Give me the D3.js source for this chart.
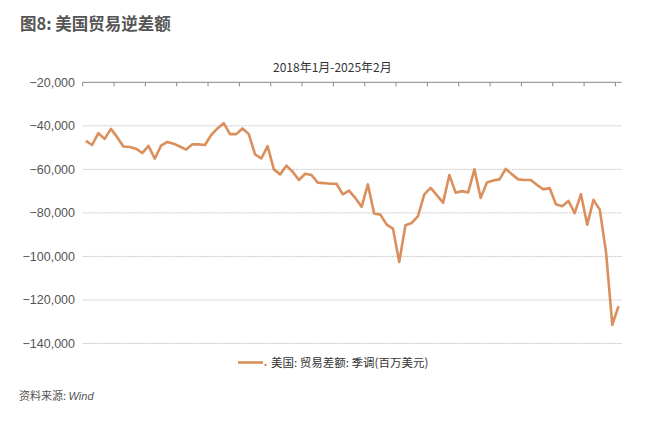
<!DOCTYPE html>
<html><head><meta charset="utf-8">
<script src="https://cdn.jsdelivr.net/npm/d3@7"></script>
<style>
body{margin:0;background:#fff;}
svg{display:block;font-family:"Liberation Sans","Noto Sans CJK SC",sans-serif;}
</style></head>
<body><svg id="c" width="650" height="426"></svg>
<script>
const startYear = 2018, startMonth = 1;
const values = [
 -46900,-48800,-43400,-46000,-41400,-45200,-49500,-49700,-50500,-52500,-49200,-55100,
 -49100,-47400,-48200,-49500,-50900,-48500,-48500,-48800,-44200,-41200,-38800,-43800,
 -43800,-41200,-43800,-53100,-55000,-49300,-60000,-62300,-58300,-61100,-64900,-62000,
 -62600,-66100,-66300,-66600,-66600,-71500,-69800,-73200,-77200,-66900,-80300,-80800,
 -85400,-87200,-102600,-85700,-84600,-81500,-71500,-68500,-71800,-75300,-62600,-70700,
 -70000,-70600,-60000,-73100,-66000,-65100,-64600,-59800,-62300,-64600,-64900,-64900,
 -67200,-69200,-68600,-76000,-76900,-74500,-80100,-71400,-85400,-74000,-78500,-98000,
 -131400,-122800
];
const months = values.map((v,i)=>{const m=startMonth-1+i;return `${startYear+Math.floor(m/12)}-${String(m%12+1).padStart(2,'0')}`;});
const yTicks = [-20000,-40000,-60000,-80000,-100000,-120000,-140000];
const titleText = "图8: 美国贸易逆差额";
const subtitleText = "2018年1月-2025年2月";
const legendText = "美国: 贸易差额: 季调(百万美元)";

const svg = d3.select("#c");
const L = 82.7, R = 621.7, T = 82.3, B = 343.5;
const x = d3.scaleBand().domain(months).range([L, R]).padding(0);
const y = d3.scaleLinear().domain([-20000,-140000]).range([T, B]);

// title
svg.append("text").attr("x",20).attr("y",30).attr("font-size",16.5).attr("font-weight","bold")
  .attr("fill","#555").attr("font-family","'Noto Sans CJK SC',sans-serif").text(titleText);
svg.append("text").attr("x",273).attr("y",72).attr("font-size",12).attr("fill","#333")
  .attr("font-family","'Noto Sans CJK SC',sans-serif").text(subtitleText);

// grid lines
svg.append("g").selectAll("line").data(yTicks.slice(1)).join("line")
  .attr("x1",L).attr("x2",R).attr("y1",d=>y(d)).attr("y2",d=>y(d))
  .attr("stroke","#c8c8c8").attr("stroke-width",1).attr("stroke-dasharray","2,1");

// y labels
const fmt = d3.format(",");
svg.append("g").selectAll("text").data(yTicks).join("text")
  .attr("x",75).attr("y",d=>y(d)).attr("dy","0.35em").attr("text-anchor","end")
  .attr("font-size",12.5).attr("fill","#555").text(d=>fmt(d));

// top category axis (ticks every 5 months at band boundaries)
const axisG = svg.append("g");
axisG.append("line").attr("x1",L).attr("x2",R).attr("y1",T).attr("y2",T).attr("stroke","#888").attr("stroke-width",1);
const tickMonths = months.filter((m,i)=>i%5===0);
axisG.selectAll("line.t").data(tickMonths).join("line").attr("class","t")
  .attr("x1",d=>x(d)).attr("x2",d=>x(d)).attr("y1",T).attr("y2",T+4)
  .attr("stroke","#888").attr("stroke-width",1);

// line
const line = d3.line().x((d,i)=>x(months[i])+x.bandwidth()/2).y(d=>y(d));
svg.append("path").datum(values).attr("d",line).attr("fill","none")
  .attr("stroke","#DA8F5C").attr("stroke-width",2.6).attr("stroke-linejoin","round");

// legend
svg.append("line").attr("x1",238).attr("x2",263).attr("y1",362.5).attr("y2",362.5)
  .attr("stroke","#DA8F5C").attr("stroke-width",2.6);
svg.append("circle").attr("cx",265.5).attr("cy",365).attr("r",1).attr("fill","#e0443a");
svg.append("text").attr("x",271).attr("y",366.5).attr("font-size",11.5).attr("fill","#333")
  .attr("font-family","'Noto Sans CJK SC',sans-serif").text(legendText);

// source
const src = svg.append("text").attr("x",19).attr("y",400).attr("font-size",11).attr("fill","#555")
  .attr("font-family","'Noto Sans CJK SC',sans-serif");
src.append("tspan").text("资料来源: ");
src.append("tspan").attr("font-style","italic").attr("font-family","'Liberation Sans',sans-serif").text("Wind");
</script></body></html>
